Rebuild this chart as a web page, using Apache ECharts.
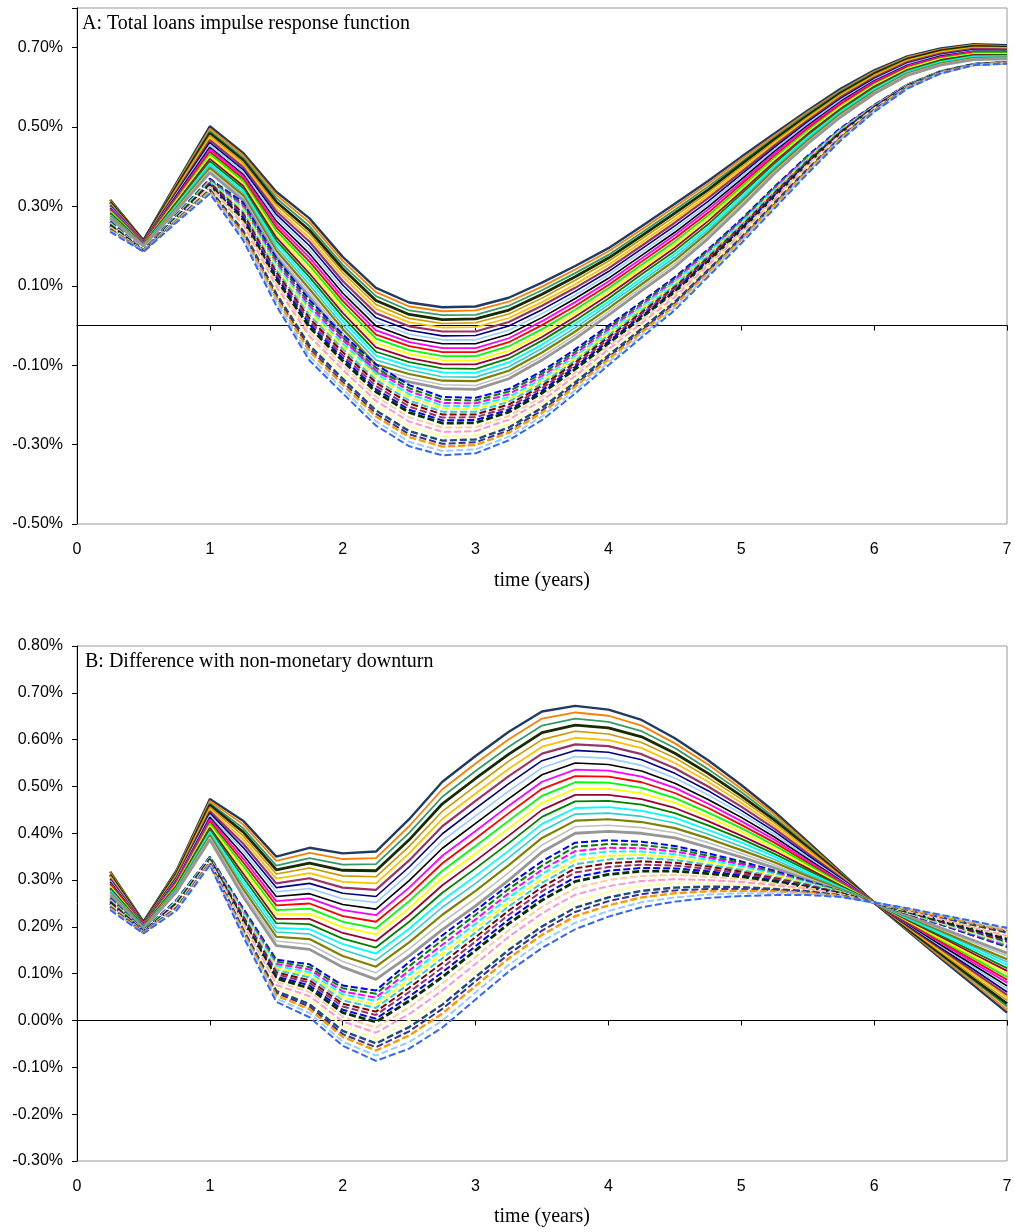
<!DOCTYPE html>
<html><head><meta charset="utf-8">
<script src="https://cdn.jsdelivr.net/npm/echarts@6/dist/echarts.min.js"></script>
<style>html,body{margin:0;padding:0;background:#fff}#c{width:1015px;height:1232px}</style>
</head><body><div id="c"></div>
<script>
// time (years)
const times = [0.25,0.5,0.75,1,1.25,1.5,1.75,2,2.25,2.5,2.75,3,3.25,3.5,3.75,4,4.25,4.5,4.75,5,5.25,5.5,5.75,6,6.25,6.5,6.75,7];

// Values in thousandths of a percent (317 = 0.317%)
// Panel A: total loans impulse response, solid lines (top to bottom)
const panelASolid = [
[317,215,360,502,435,337,270,173,95,58,46,48,70,108,150,195,250,307,364,425,484,542,597,643,678,698,709,706],
[315,214,357,496,429,329,260,163,84,48,36,38,60,98,141,187,242,299,357,419,479,538,593,640,676,696,707,704],
[312,214,353,490,423,321,250,153,74,38,26,27,50,89,132,178,234,291,350,412,474,534,590,637,673,694,705,703],
[310,213,350,484,417,312,240,143,63,28,15,17,39,79,123,170,226,283,342,406,469,529,586,634,671,692,703,701],
[308,212,347,479,411,304,231,133,53,18,5,7,29,69,114,162,218,275,335,400,464,525,583,631,669,690,701,700],
[305,211,343,473,405,296,221,123,42,8,-5,-4,19,59,104,153,210,267,328,394,459,521,579,628,666,688,699,698],
[303,211,339,467,399,288,211,112,31,-2,-15,-15,9,50,95,144,201,259,321,387,454,517,576,625,664,685,697,696],
[301,210,336,461,393,280,201,102,20,-12,-26,-25,-1,40,86,136,193,251,313,381,449,513,572,622,661,683,695,694],
[299,209,333,455,387,272,191,92,10,-22,-36,-36,-12,30,77,128,185,243,306,375,444,509,569,619,659,681,693,693],
[296,208,329,449,381,263,181,82,-1,-32,-46,-46,-22,20,68,119,177,235,299,368,439,504,565,616,656,679,691,691],
[294,208,325,444,376,255,171,72,-12,-42,-57,-57,-32,11,59,111,169,228,292,362,434,500,562,614,654,677,690,689],
[291,207,322,438,370,247,161,62,-23,-52,-67,-67,-42,1,49,102,161,220,284,356,428,496,558,611,652,675,688,687],
[289,206,318,432,364,239,151,52,-33,-62,-77,-77,-52,-9,40,94,153,212,277,349,423,492,554,608,649,673,686,686],
[286,205,315,426,358,230,141,42,-44,-72,-87,-88,-63,-19,31,85,145,204,270,343,418,487,551,605,647,671,684,684],
[284,205,311,420,352,222,131,32,-55,-82,-98,-98,-73,-29,22,77,137,196,263,337,413,483,547,602,644,669,682,682],
[282,204,308,414,346,214,122,22,-66,-92,-108,-109,-83,-38,13,68,129,188,255,331,408,479,544,599,642,667,680,681],
[279,203,304,408,340,206,112,11,-76,-102,-118,-119,-93,-48,4,60,120,180,248,324,403,475,540,596,640,664,678,679],
[277,203,301,403,334,198,102,1,-87,-112,-129,-130,-104,-58,-6,52,112,172,241,318,398,471,537,593,638,662,676,677],
[275,202,297,397,328,189,92,-9,-98,-122,-139,-140,-114,-68,-15,43,104,164,234,312,393,466,533,590,635,660,674,675],
[273,201,294,391,322,181,82,-19,-109,-132,-149,-151,-124,-78,-24,35,96,156,227,306,388,462,530,587,633,658,672,674],
[270,200,290,385,316,173,72,-29,-119,-142,-159,-161,-134,-87,-33,26,88,148,219,299,383,458,526,584,630,656,670,672]
];
// Panel A dashed lines (top to bottom)
const panelADashed = [
[262,190,280,370,310,170,64,-22,-98,-150,-180,-182,-160,-115,-60,0,60,122,192,268,350,428,498,556,607,641,659,664],
[261,190,279,368,305,164,56,-29,-106,-158,-187,-189,-166,-121,-66,-5,56,118,189,265,347,426,496,555,607,641,659,664],
[259,190,278,366,301,158,49,-37,-113,-165,-195,-196,-173,-127,-71,-10,51,114,185,262,345,424,495,554,606,640,659,664],
[258,190,277,364,296,152,42,-45,-121,-173,-202,-203,-180,-134,-77,-15,47,110,182,259,342,422,494,553,606,640,659,664],
[257,189,276,362,291,146,34,-52,-129,-181,-209,-210,-186,-140,-82,-20,42,105,178,256,339,419,492,552,605,640,658,663],
[256,189,275,361,286,140,26,-59,-137,-189,-217,-217,-192,-146,-88,-25,38,101,175,253,336,417,490,552,605,640,658,663],
[254,189,274,359,282,134,18,-67,-144,-196,-224,-224,-199,-152,-93,-30,33,97,171,250,334,415,489,551,604,639,658,663],
[253,189,273,357,277,128,11,-75,-152,-204,-232,-231,-206,-158,-99,-35,29,93,168,247,331,413,488,550,604,639,658,663],
[252,188,272,355,272,122,3,-82,-160,-212,-239,-238,-212,-164,-104,-40,24,89,164,244,328,410,486,549,603,639,658,662],
[250,188,271,353,267,116,-4,-89,-167,-219,-246,-245,-218,-170,-110,-45,20,85,161,241,325,408,484,548,603,638,658,662],
[248,188,270,350,260,107,-16,-100,-179,-231,-257,-256,-228,-180,-119,-53,13,79,156,236,321,405,482,547,602,638,658,662],
[246,188,268,347,253,98,-27,-111,-190,-242,-268,-266,-237,-189,-127,-60,6,72,151,231,317,401,479,545,601,637,657,662],
[245,188,267,345,246,89,-39,-123,-202,-254,-279,-277,-247,-198,-135,-68,-1,66,146,227,313,398,477,544,601,637,657,662],
[243,187,265,342,239,80,-50,-134,-214,-266,-290,-287,-257,-207,-143,-75,-8,60,140,222,309,394,475,543,600,637,657,661],
[242,187,264,340,234,74,-58,-142,-222,-274,-298,-294,-264,-214,-149,-80,-13,56,137,219,306,392,474,542,600,637,657,661],
[240,187,263,338,229,68,-65,-149,-229,-281,-305,-301,-270,-220,-154,-85,-17,51,133,216,303,390,472,541,599,636,656,661],
[238,187,262,335,222,59,-77,-160,-241,-293,-316,-312,-280,-229,-163,-93,-24,45,128,212,299,387,470,540,598,636,656,661],
[236,186,260,332,215,50,-88,-171,-252,-304,-327,-322,-289,-238,-171,-100,-30,39,123,207,295,383,467,538,597,635,656,660]
];
// Panel B: difference with non-monetary downturn, solid lines
const panelBSolid = [
[318,211,321,473,427,350,369,357,361,430,510,565,617,660,672,664,642,603,556,503,446,382,317,252,192,133,75,17],
[316,210,319,469,419,341,358,345,347,415,494,549,601,645,658,651,630,592,547,495,440,378,315,252,194,136,80,23],
[313,210,316,464,411,331,347,333,334,401,478,533,585,630,645,638,618,582,537,488,434,374,313,252,195,140,85,30],
[311,209,314,460,403,322,336,321,320,386,463,517,569,615,631,625,606,571,528,480,428,370,311,252,197,143,89,36],
[309,208,312,456,395,313,326,309,307,372,447,501,554,600,618,612,594,561,519,473,422,366,309,252,199,146,94,43],
[306,207,310,451,387,303,315,296,293,357,431,485,538,585,604,599,582,550,510,465,416,362,307,252,200,149,99,49],
[303,207,307,447,378,293,304,284,279,342,415,469,522,570,590,586,569,539,500,457,410,357,305,252,202,153,104,55],
[301,206,305,443,370,284,293,272,265,328,399,453,506,555,577,573,557,528,491,449,404,353,303,252,204,156,109,61],
[299,205,303,439,362,275,282,260,252,314,384,437,490,540,564,560,545,518,482,442,398,349,301,252,206,159,114,68],
[296,204,300,434,354,265,271,248,238,299,368,421,474,525,550,547,533,507,472,434,392,345,299,252,207,162,118,74],
[293,204,298,430,346,255,261,236,225,284,352,405,459,510,536,534,521,497,463,426,386,341,297,252,209,166,123,81],
[291,203,296,425,338,246,250,223,211,269,336,389,443,495,522,521,509,486,454,418,380,337,294,252,210,169,128,87],
[288,202,293,421,330,236,239,211,197,255,320,373,427,480,509,508,497,475,444,411,374,333,292,252,212,172,133,93],
[286,201,291,416,322,227,228,199,184,240,305,357,411,465,495,495,485,465,435,403,368,329,290,252,213,175,137,100],
[283,201,289,412,314,217,217,187,170,226,289,341,395,450,482,482,473,454,426,395,362,325,288,252,215,179,142,106],
[281,200,287,408,306,208,206,175,156,211,273,325,379,435,468,469,461,443,417,388,356,321,286,252,217,182,147,112],
[278,199,284,403,297,198,195,163,143,196,257,309,363,420,454,456,448,433,407,380,350,316,284,252,218,185,152,119],
[276,199,282,399,289,189,185,151,129,182,242,293,348,405,441,443,436,422,398,372,344,312,282,252,220,189,157,125],
[273,198,280,395,281,179,174,138,115,167,226,277,332,390,427,430,424,411,389,364,338,308,280,252,222,192,161,131],
[271,197,278,391,273,170,163,126,102,153,210,261,316,375,414,417,412,401,380,357,332,304,278,252,224,195,166,138],
[268,196,275,386,265,160,152,114,88,138,194,245,300,360,400,404,400,390,370,349,326,300,276,252,225,198,171,144]
];
// Panel B dashed lines
const panelBDashed = [
[262,192,258,350,240,130,120,75,64,125,182,235,290,340,380,385,382,373,357,340,320,298,276,252,228,205,181,157],
[261,192,257,349,237,126,114,69,57,116,172,226,281,331,371,377,375,367,352,336,317,297,275,252,229,206,183,159],
[259,191,256,348,234,121,109,62,49,107,162,216,272,322,362,369,368,361,348,333,315,295,275,252,229,207,184,161],
[258,191,255,347,231,117,103,56,42,98,153,207,263,313,353,361,361,355,343,329,313,294,275,252,230,208,186,163],
[257,191,253,346,228,112,97,49,34,88,143,197,253,303,343,352,354,349,338,325,310,292,274,252,230,209,187,165],
[256,191,252,346,225,108,92,43,27,79,133,188,244,294,334,344,347,343,333,322,307,291,273,252,231,210,189,167],
[254,190,251,345,222,103,86,36,19,70,123,178,235,285,325,336,340,337,329,318,304,289,272,252,232,211,190,169],
[253,190,250,344,219,99,81,30,12,61,113,169,226,276,316,328,333,331,324,314,302,288,272,252,233,212,192,171],
[252,190,249,343,216,94,75,23,4,51,103,159,216,266,306,320,326,325,319,310,299,286,271,252,233,213,193,173],
[250,189,248,342,213,90,69,17,-3,42,93,150,207,257,297,312,319,319,314,307,297,285,271,252,233,214,195,175],
[248,189,246,341,209,83,61,8,-15,28,79,136,193,243,283,300,309,311,307,302,293,283,270,252,234,216,198,179],
[246,188,244,339,204,76,52,-2,-26,14,64,121,179,229,269,287,298,302,300,296,289,280,269,252,235,218,200,182],
[245,188,243,338,200,70,44,-12,-38,0,49,107,165,215,255,275,288,293,293,291,285,278,268,252,236,220,202,185],
[243,188,241,337,195,63,35,-22,-49,-14,34,93,151,201,241,263,277,284,286,285,281,276,267,252,237,221,204,188],
[242,188,240,336,192,59,30,-29,-57,-23,25,84,142,192,232,255,270,278,281,281,279,275,267,252,238,222,206,190],
[240,187,238,335,189,54,24,-35,-64,-32,15,74,133,183,223,246,263,272,276,277,276,273,266,252,238,223,207,192],
[238,187,237,334,185,47,16,-45,-75,-46,0,60,119,169,209,234,253,263,269,272,272,271,265,252,239,225,210,195],
[236,186,235,332,180,40,7,-54,-86,-60,-15,45,105,155,195,222,242,254,262,266,268,268,264,252,240,226,212,198]
];

const titleA = 'A: Total loans impulse response function';
const titleB = 'B: Difference with non-monetary downturn';
const xName = 'time (years)';

// styles
const solidColors = ['#1F3B64','#FF7F00','#339966','#1A2A00','#CC9900','#FFC000','#993366','#000080','#99CCFF','#000000','#FF00FF','#FF0000','#00FF00','#FFFF00','#990033','#008000','#00FFFF','#33CCCC','#808000','#C0C0C0','#969696'];
const solidWidths = [2.4,1.8,1.8,2.8,1.6,1.8,2.2,1.6,1.6,1.6,1.8,1.8,1.8,1.8,1.8,1.8,1.8,1.6,2.2,1.6,2.8];
const dashedColors = ['#0000FF','#008000','#FF00FF','#00FFFF','#FFFF00','#33CCCC','#800000','#993366','#0000FF','#003300','#FFCC99','#FF99CC','#FFFF99','#1F497D','#333399','#FF9900','#99CCFF','#3366FF'];
const dashedWidths = [2,2,2,2,2,2,2,2,2,2.8,2,2,2,2.4,2,2.4,2,2];

function makeSeries(lines, colors, widths, dashed, xIdx, yIdx) {
  return lines.map((vals, i) => ({
    type: 'line', xAxisIndex: xIdx, yAxisIndex: yIdx,
    data: times.map((t, j) => [t, vals[j]]),
    symbol: 'none', silent: true, animation: false, smooth: false,
    lineStyle: {color: colors[i], width: widths[i], type: dashed ? [7, 3] : 'solid'}
  }));
}

const sans = '"Liberation Sans", Arial, sans-serif';
const serif = '"Liberation Serif", "Times New Roman", serif';

function labelAxis(g) {
  return {gridIndex: g, type: 'value', min: 0, max: 7, interval: 1, position: 'bottom',
    axisLine: {show: false, onZero: false}, axisTick: {show: false},
    axisLabel: {fontSize: 16, color: '#000', margin: 18, fontFamily: sans},
    splitLine: {show: false}};
}
function zeroAxis(g) {
  return {gridIndex: g, type: 'value', min: 0, max: 7, interval: 1, position: 'top',
    axisLine: {show: true, onZero: true, lineStyle: {color: '#000', width: 1}},
    axisTick: {show: true, inside: true, length: 5, lineStyle: {color: '#000'}},
    axisLabel: {show: false}, splitLine: {show: false}};
}
function yAxis(g, min, max, interval, hideMax) {
  return {gridIndex: g, type: 'value', min: min, max: max, interval: interval,
    axisLine: {show: true, onZero: false, lineStyle: {color: '#000', width: 1}},
    axisTick: {show: true, length: 5, lineStyle: {color: '#000'}},
    axisLabel: {fontSize: 16, color: '#000', margin: 14, fontFamily: sans,
      formatter: v => (hideMax && v === max) ? '' : (v / 1000).toFixed(2) + '%'},
    splitLine: {show: false}};
}

const chart = echarts.init(document.getElementById('c'), null, {renderer: 'canvas'});
chart.setOption({
  animation: false,
  backgroundColor: '#fff',
  grid: [
    {left: 77, top: 8, width: 930, height: 516, show: true, borderColor: '#999', borderWidth: 1, backgroundColor: 'transparent'},
    {left: 77, top: 646, width: 930, height: 515, show: true, borderColor: '#999', borderWidth: 1, backgroundColor: 'transparent'}
  ],
  xAxis: [labelAxis(0), zeroAxis(0), labelAxis(1), zeroAxis(1)],
  yAxis: [yAxis(0, -500, 800, 200, true), yAxis(1, -300, 800, 100, false)],
  series: [].concat(
    makeSeries(panelASolid, solidColors, solidWidths, false, 0, 0),
    makeSeries(panelADashed, dashedColors, dashedWidths, true, 0, 0),
    makeSeries(panelBSolid, solidColors, solidWidths, false, 2, 1),
    makeSeries(panelBDashed, dashedColors, dashedWidths, true, 2, 1)
  ),
  graphic: [
    {type: 'text', x: 82, y: 14, z: 100, style: {text: titleA, font: '20px ' + serif, fill: '#000', align: 'left', verticalAlign: 'top'}},
    {type: 'text', x: 85, y: 652, z: 100, style: {text: titleB, font: '20px ' + serif, fill: '#000', align: 'left', verticalAlign: 'top'}},
    {type: 'text', x: 542, y: 581, z: 100, style: {text: xName, font: '20px ' + serif, fill: '#000', align: 'center', verticalAlign: 'middle'}},
    {type: 'text', x: 542, y: 1217, z: 100, style: {text: xName, font: '20px ' + serif, fill: '#000', align: 'center', verticalAlign: 'middle'}}
  ]
});
</script>
</body></html>
